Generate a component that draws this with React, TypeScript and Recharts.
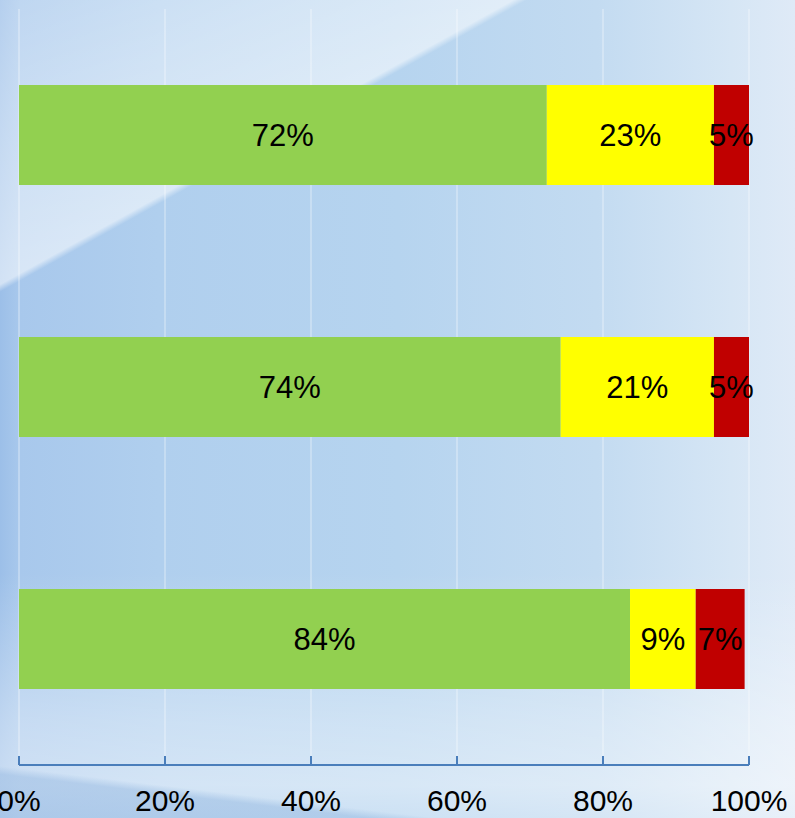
import React from 'react';
import { BarChart, Bar, XAxis, YAxis, CartesianGrid, LabelList } from 'recharts';

const categories = ['Row 1', 'Row 2', 'Row 3'];
const greenValues = [72.3, 74.2, 83.7];
const yellowValues = [22.9, 21.0, 9.0];
const redValues = [4.8, 4.8, 6.7];
const xTicks = [0, 20, 40, 60, 80, 100];

const data = categories.map((name, i) => ({
  name,
  green: greenValues[i],
  yellow: yellowValues[i],
  red: redValues[i],
}));

const FONT = '"Liberation Sans", Arial, sans-serif';
const AXIS_COLOR = '#4A7EBB';

const fmt = (v: any) => `${Math.round(Number(v))}%`;

const AxisTick = (props: any) => {
  const { x, y, payload } = props;
  return (
    <g>
      <line x1={x} x2={x} y1={y} y2={y - 9} stroke={AXIS_COLOR} strokeWidth={2} />
      <text x={x} y={y + 46} textAnchor="middle" fontFamily={FONT} fontSize={30} fill="#000">
        {`${payload.value}%`}
      </text>
    </g>
  );
};

const labelStyle = { fontFamily: FONT, fontSize: 31, fill: '#000' };

export default function App() {
  const bg = [
    'linear-gradient(186.8deg, rgba(150,185,225,0) 0%, rgba(150,185,225,0) 94.3%, rgba(150,185,225,0.5) 95.2%, rgba(150,185,225,0.5) 100%)',
    'linear-gradient(151deg, rgba(255,255,255,0.25) 0%, rgba(255,255,255,0.42) 12%, rgba(255,255,255,0.55) 22.6%, rgba(255,255,255,0) 23.2%, rgba(255,255,255,0) 100%)',
    'linear-gradient(to bottom, rgba(255,255,255,0) 0%, rgba(255,255,255,0) 70%, rgba(255,255,255,0.35) 88%, rgba(255,255,255,0.45) 96%, rgba(255,255,255,0.3) 100%)',
    'linear-gradient(to right, #9cbfe8 0%, #a8c8ec 2.5%, #b0cfee 20%, #b6d4ef 50%, #c3dbf1 75%, #d6e6f5 92%, #dfeaf7 100%)',
  ].join(', ');
  return (
    <div
      style={{
        position: 'absolute',
        left: 0,
        top: 0,
        width: 795,
        height: 818,
        background: bg,
        overflow: 'hidden',
      }}
    >
      <BarChart
        width={795}
        height={818}
        data={data}
        layout="vertical"
        margin={{ top: 9, right: 46, bottom: 0, left: 19 }}
        barSize={100}
      >
        <CartesianGrid
          horizontal={false}
          vertical={true}
          stroke="#ffffff"
          strokeOpacity={0.55}
          strokeWidth={1}
        />
        <XAxis
          type="number"
          domain={[0, 100]}
          ticks={xTicks}
          interval={0}
          height={53}
          axisLine={{ stroke: AXIS_COLOR, strokeWidth: 2 }}
          tickLine={false}
          tickSize={0}
          tickMargin={0}
          tick={<AxisTick />}
          allowDataOverflow
        />
        <YAxis type="category" dataKey="name" hide width={0} />
        <Bar dataKey="green" stackId="s" fill="#92D050" isAnimationActive={false}>
          <LabelList dataKey="green" position="center" formatter={fmt} style={labelStyle} />
        </Bar>
        <Bar dataKey="yellow" stackId="s" fill="#FFFF00" isAnimationActive={false}>
          <LabelList dataKey="yellow" position="center" formatter={fmt} style={labelStyle} />
        </Bar>
        <Bar dataKey="red" stackId="s" fill="#C00000" isAnimationActive={false}>
          <LabelList dataKey="red" position="center" formatter={fmt} style={labelStyle} />
        </Bar>
      </BarChart>
    </div>
  );
}
